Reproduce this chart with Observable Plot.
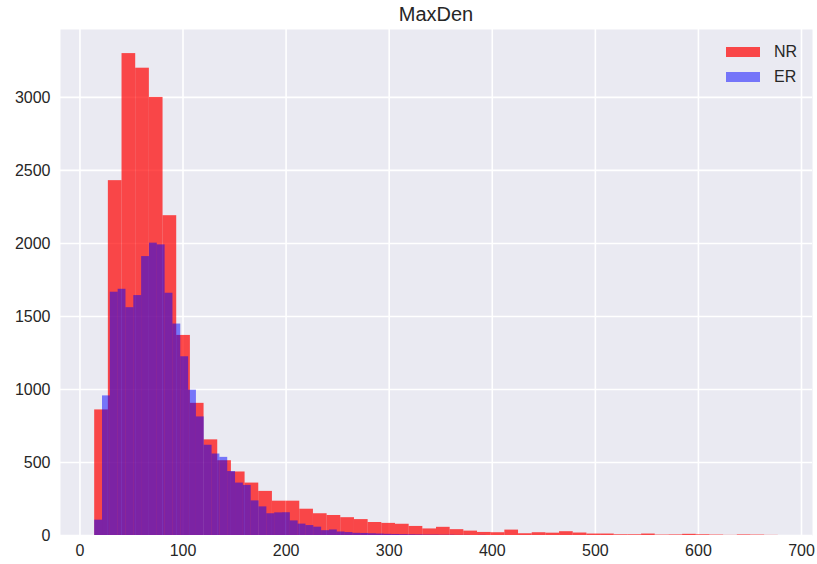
<!DOCTYPE html>
<html>
<head>
<meta charset="utf-8">
<script src="https://cdn.jsdelivr.net/npm/d3@7"></script>
<script src="https://cdn.jsdelivr.net/npm/@observablehq/plot@0.6"></script>
<style>
  body { margin: 0; background: #fff; font-family: "Liberation Sans", Arial, sans-serif; color: #262626; }
  #wrap { position: relative; width: 817px; height: 564px; }
  #title { position: absolute; left: 60px; width: 752px; top: 0; height: 29px; line-height: 29px; text-align: center; font-size: 20px; }
  #chart { position: absolute; left: 0; top: 29px; }
  .key { position: absolute; left: 726px; width: 34px; height: 10px; }
  .keylabel { position: absolute; left: 774px; font-size: 16px; line-height: 16px; }
</style>
</head>
<body>
<div id="wrap">
  <div id="title">MaxDen</div>
  <div id="chart"></div>
  <div id="legend"></div>
</div>
<script>
// Histogram of MaxDen for two groups, 50 equal-width bins each
const seriesNames = ["NR", "ER"];
const seriesColors = ["red", "blue"];
const seriesOpacity = [0.7, 0.5];

// value range spanned by each group's 50 bins
const nrRange = [14.3, 677.5];
const erRange = [14.3, 393.9];

// counts per bin
const nrCounts = [
  860, 2430, 3300, 3200, 3000, 2190, 1370, 905, 655, 512,
  435, 359, 302, 235, 235, 180, 149, 137, 122, 109,
  89, 83, 77, 62, 45, 56, 40, 30, 21, 19,
  37, 12, 19, 16, 26, 17, 10, 10, 5, 5,
  10, 3, 4, 8, 5, 3, 1, 4, 3, 1
];
const erCounts = [
  105, 956, 1666, 1686, 1560, 1643, 1910, 2002, 1990, 1659,
  1448, 1224, 995, 812, 618, 558, 535, 438, 359, 343,
  237, 196, 149, 155, 156, 100, 78, 68, 57, 33,
  38, 24, 20, 15, 14, 12, 10, 8, 7, 6,
  5, 4, 3, 3, 2, 2, 1, 1, 0, 1
];

const xTicks = [0, 100, 200, 300, 400, 500, 600, 700];
const yTicks = [0, 500, 1000, 1500, 2000, 2500, 3000];

function toBins(name, range, counts) {
  const w = (range[1] - range[0]) / counts.length;
  return counts.map((c, i) => ({ series: name, lo: range[0] + i * w, hi: range[0] + (i + 1) * w, count: c }));
}

const nrBins = toBins(seriesNames[0], nrRange, nrCounts);
const erBins = toBins(seriesNames[1], erRange, erCounts);

// 5% margins on x, 5% headroom on y above the tallest bin
const lo = Math.min(nrRange[0], erRange[0]);
const hi = Math.max(nrRange[1], erRange[1]);
const pad = 0.05 * (hi - lo);
const yMax = d3.max([...nrCounts, ...erCounts]) * 1.05;

const chart = Plot.plot({
  width: 817,
  height: 535,
  marginTop: 0,
  marginLeft: 60,
  marginRight: 5,
  marginBottom: 29,
  style: { fontFamily: "'Liberation Sans', Arial, sans-serif", fontSize: "16px", color: "#262626", background: "transparent" },
  x: { domain: [lo - pad, hi + pad], ticks: xTicks, tickFormat: "d", tickSize: 0, tickPadding: 9, label: null },
  y: { domain: [0, yMax], ticks: yTicks, tickFormat: "d", tickSize: 0, tickPadding: 10, label: null },
  marks: [
    Plot.frame({ fill: "#EAEAF2", stroke: null }),
    Plot.gridX(xTicks, { stroke: "white", strokeOpacity: 1, strokeWidth: 1.6 }),
    Plot.gridY(yTicks, { stroke: "white", strokeOpacity: 1, strokeWidth: 1.6 }),
    Plot.rectY(nrBins, { x1: "lo", x2: "hi", y: "count", fill: seriesColors[0], fillOpacity: seriesOpacity[0] }),
    Plot.rectY(erBins, { x1: "lo", x2: "hi", y: "count", fill: seriesColors[1], fillOpacity: seriesOpacity[1] })
  ]
});
document.getElementById("chart").appendChild(chart);

// legend in the upper-right corner of the axes
const legend = document.getElementById("legend");
seriesNames.forEach((name, i) => {
  const top = 47 + i * 24.5;
  const key = document.createElement("div");
  key.className = "key";
  key.style.top = top + "px";
  key.style.background = seriesColors[i];
  key.style.opacity = seriesOpacity[i];
  legend.appendChild(key);
  const label = document.createElement("div");
  label.className = "keylabel";
  label.style.top = (top - 3) + "px";
  label.textContent = name;
  legend.appendChild(label);
});
</script>
</body>
</html>
